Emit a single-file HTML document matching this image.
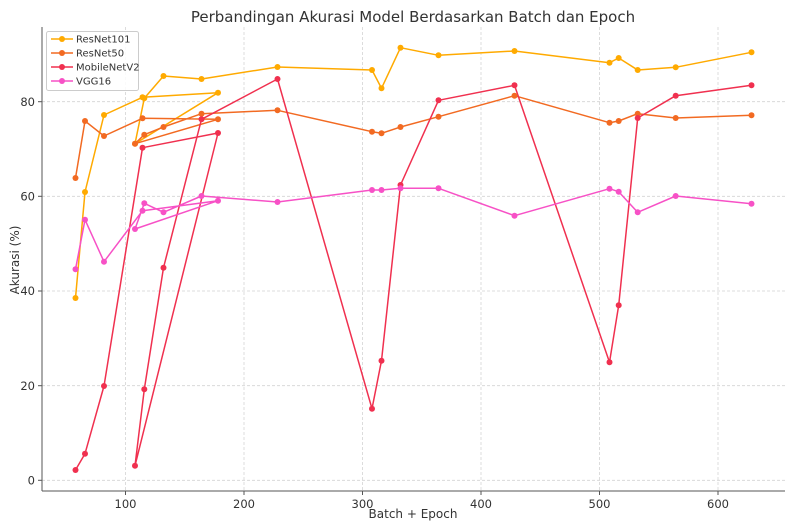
<!DOCTYPE html>
<html><head><meta charset="utf-8"><style>
html,body{margin:0;padding:0;background:#fff;}
svg{display:block;font-family:"DejaVu Sans","Liberation Sans",sans-serif;}
</style></head><body>
<svg width="795" height="530" viewBox="0 0 795 530" xmlns="http://www.w3.org/2000/svg">
<rect width="795" height="530" fill="#fff"/>
<text x="413" y="22" text-anchor="middle" font-size="15" fill="#333">Perbandingan Akurasi Model Berdasarkan Batch dan Epoch</text>
<g stroke="#d4d4d4" stroke-width="0.8" stroke-dasharray="3,2">
<line x1="125.5" y1="27" x2="125.5" y2="491"/><line x1="244" y1="27" x2="244" y2="491"/><line x1="362.5" y1="27" x2="362.5" y2="491"/><line x1="481" y1="27" x2="481" y2="491"/><line x1="599.5" y1="27" x2="599.5" y2="491"/><line x1="718" y1="27" x2="718" y2="491"/>
<line x1="42" y1="480.3" x2="785" y2="480.3"/><line x1="42" y1="385.7" x2="785" y2="385.7"/><line x1="42" y1="291" x2="785" y2="291"/><line x1="42" y1="196.3" x2="785" y2="196.3"/><line x1="42" y1="101.7" x2="785" y2="101.7"/>
</g>
<g stroke="#555" stroke-width="1" fill="none">
<line x1="42" y1="27" x2="42" y2="491"/><line x1="42" y1="491" x2="785" y2="491"/>
</g>
<g stroke="#555" stroke-width="1">
<line x1="125.5" y1="491" x2="125.5" y2="495"/><line x1="244" y1="491" x2="244" y2="495"/><line x1="362.5" y1="491" x2="362.5" y2="495"/><line x1="481" y1="491" x2="481" y2="495"/><line x1="599.5" y1="491" x2="599.5" y2="495"/><line x1="718" y1="491" x2="718" y2="495"/>
<line x1="38" y1="480.3" x2="42" y2="480.3"/><line x1="38" y1="385.7" x2="42" y2="385.7"/><line x1="38" y1="291" x2="42" y2="291"/><line x1="38" y1="196.3" x2="42" y2="196.3"/><line x1="38" y1="101.7" x2="42" y2="101.7"/>
</g>
<g font-size="11.5" fill="#333" text-anchor="middle">
<text x="125.5" y="508">100</text><text x="244" y="508">200</text><text x="362.5" y="508">300</text><text x="481" y="508">400</text><text x="599.5" y="508">500</text><text x="718" y="508">600</text>
</g>
<g font-size="11.5" fill="#333" text-anchor="end">
<text x="35" y="484.5">0</text><text x="35" y="390">20</text><text x="35" y="295">40</text><text x="35" y="200.5">60</text><text x="35" y="106">80</text>
</g>
<text x="413" y="518" text-anchor="middle" font-size="12" fill="#333">Batch + Epoch</text>
<text x="19" y="260" text-anchor="middle" font-size="12" fill="#333" transform="rotate(-90 19 260)">Akurasi (%)</text>

<g fill="none" stroke-width="1.5" stroke-linejoin="round">
<polyline stroke="#ffaa00" points="75.5,298 85,192 104,115 142.5,97.3 218,92.7 135,143.7 144.3,98.3 163.5,76 201.5,79 277.5,67 372,70 381.5,88.3 400.5,47.7 438.5,55.3 514.5,51 609.5,62.7 618.7,58 637.7,70 675.7,67.3 751.5,52.3"/>
<polyline stroke="#f26a22" points="75.5,178 85,121 104,136 142.5,118.3 218,119.3 135,143.7 144.3,134.7 163.5,127 201.5,113.7 277.5,110.3 372,131.7 381.5,133.3 400.5,127 438.5,116.7 514.5,95.7 609.5,122.7 618.7,121 637.7,113.7 675.7,118 751.5,115.3"/>
<polyline stroke="#f0304f" points="75.5,470 85,453.7 104,386 142.5,147.7 218,133 135,465.7 144.3,389.3 163.5,267.7 201.5,119.3 277.5,79 372,408.7 381.5,360.7 400.5,185 438.5,100.3 514.5,85.3 609.5,362.3 618.7,305.3 637.7,118 675.7,95.7 751.5,85.3"/>
<polyline stroke="#f751c6" points="75.5,269.3 85,219.7 104,261.7 142.5,210.7 218,200.7 135,229 144.3,203.3 163.5,212.3 201.5,196 277.5,202 372,190 381.5,190 400.5,188.3 438.5,188.3 514.5,215.7 609.5,188.7 618.7,191.7 637.7,212.3 675.7,196 751.5,203.7"/>
</g>
<g fill="#ffaa00">
<circle cx="75.5" cy="298" r="3"/><circle cx="85" cy="192" r="3"/><circle cx="104" cy="115" r="3"/><circle cx="142.5" cy="97.3" r="3"/><circle cx="218" cy="92.7" r="3"/><circle cx="135" cy="143.7" r="3"/><circle cx="144.3" cy="98.3" r="3"/><circle cx="163.5" cy="76" r="3"/><circle cx="201.5" cy="79" r="3"/><circle cx="277.5" cy="67" r="3"/><circle cx="372" cy="70" r="3"/><circle cx="381.5" cy="88.3" r="3"/><circle cx="400.5" cy="47.7" r="3"/><circle cx="438.5" cy="55.3" r="3"/><circle cx="514.5" cy="51" r="3"/><circle cx="609.5" cy="62.7" r="3"/><circle cx="618.7" cy="58" r="3"/><circle cx="637.7" cy="70" r="3"/><circle cx="675.7" cy="67.3" r="3"/><circle cx="751.5" cy="52.3" r="3"/>
</g>
<g fill="#f26a22">
<circle cx="75.5" cy="178" r="3"/><circle cx="85" cy="121" r="3"/><circle cx="104" cy="136" r="3"/><circle cx="142.5" cy="118.3" r="3"/><circle cx="218" cy="119.3" r="3"/><circle cx="135" cy="143.7" r="3"/><circle cx="144.3" cy="134.7" r="3"/><circle cx="163.5" cy="127" r="3"/><circle cx="201.5" cy="113.7" r="3"/><circle cx="277.5" cy="110.3" r="3"/><circle cx="372" cy="131.7" r="3"/><circle cx="381.5" cy="133.3" r="3"/><circle cx="400.5" cy="127" r="3"/><circle cx="438.5" cy="116.7" r="3"/><circle cx="514.5" cy="95.7" r="3"/><circle cx="609.5" cy="122.7" r="3"/><circle cx="618.7" cy="121" r="3"/><circle cx="637.7" cy="113.7" r="3"/><circle cx="675.7" cy="118" r="3"/><circle cx="751.5" cy="115.3" r="3"/>
</g>
<g fill="#f0304f">
<circle cx="75.5" cy="470" r="3"/><circle cx="85" cy="453.7" r="3"/><circle cx="104" cy="386" r="3"/><circle cx="142.5" cy="147.7" r="3"/><circle cx="218" cy="133" r="3"/><circle cx="135" cy="465.7" r="3"/><circle cx="144.3" cy="389.3" r="3"/><circle cx="163.5" cy="267.7" r="3"/><circle cx="201.5" cy="119.3" r="3"/><circle cx="277.5" cy="79" r="3"/><circle cx="372" cy="408.7" r="3"/><circle cx="381.5" cy="360.7" r="3"/><circle cx="400.5" cy="185" r="3"/><circle cx="438.5" cy="100.3" r="3"/><circle cx="514.5" cy="85.3" r="3"/><circle cx="609.5" cy="362.3" r="3"/><circle cx="618.7" cy="305.3" r="3"/><circle cx="637.7" cy="118" r="3"/><circle cx="675.7" cy="95.7" r="3"/><circle cx="751.5" cy="85.3" r="3"/>
</g>
<g fill="#f751c6">
<circle cx="75.5" cy="269.3" r="3"/><circle cx="85" cy="219.7" r="3"/><circle cx="104" cy="261.7" r="3"/><circle cx="142.5" cy="210.7" r="3"/><circle cx="218" cy="200.7" r="3"/><circle cx="135" cy="229" r="3"/><circle cx="144.3" cy="203.3" r="3"/><circle cx="163.5" cy="212.3" r="3"/><circle cx="201.5" cy="196" r="3"/><circle cx="277.5" cy="202" r="3"/><circle cx="372" cy="190" r="3"/><circle cx="381.5" cy="190" r="3"/><circle cx="400.5" cy="188.3" r="3"/><circle cx="438.5" cy="188.3" r="3"/><circle cx="514.5" cy="215.7" r="3"/><circle cx="609.5" cy="188.7" r="3"/><circle cx="618.7" cy="191.7" r="3"/><circle cx="637.7" cy="212.3" r="3"/><circle cx="675.7" cy="196" r="3"/><circle cx="751.5" cy="203.7" r="3"/>
</g>

<rect x="46.5" y="31.5" width="92" height="59" rx="2" fill="#fff" fill-opacity="0.85" stroke="#ccc" stroke-width="1"/>
<g stroke-width="1.5">
<line x1="51" y1="39" x2="73" y2="39" stroke="#ffaa00"/><circle cx="62" cy="39" r="3" fill="#ffaa00"/>
<line x1="51" y1="53" x2="73" y2="53" stroke="#f26a22"/><circle cx="62" cy="53" r="3" fill="#f26a22"/>
<line x1="51" y1="67" x2="73" y2="67" stroke="#f0304f"/><circle cx="62" cy="67" r="3" fill="#f0304f"/>
<line x1="51" y1="81" x2="73" y2="81" stroke="#f751c6"/><circle cx="62" cy="81" r="3" fill="#f751c6"/>
</g>
<g font-size="10" fill="#333">
<text x="76" y="42.5">ResNet101</text><text x="76" y="56.5">ResNet50</text><text x="76" y="70.5">MobileNetV2</text><text x="76" y="84.5">VGG16</text>
</g>
</svg>
</body></html>
